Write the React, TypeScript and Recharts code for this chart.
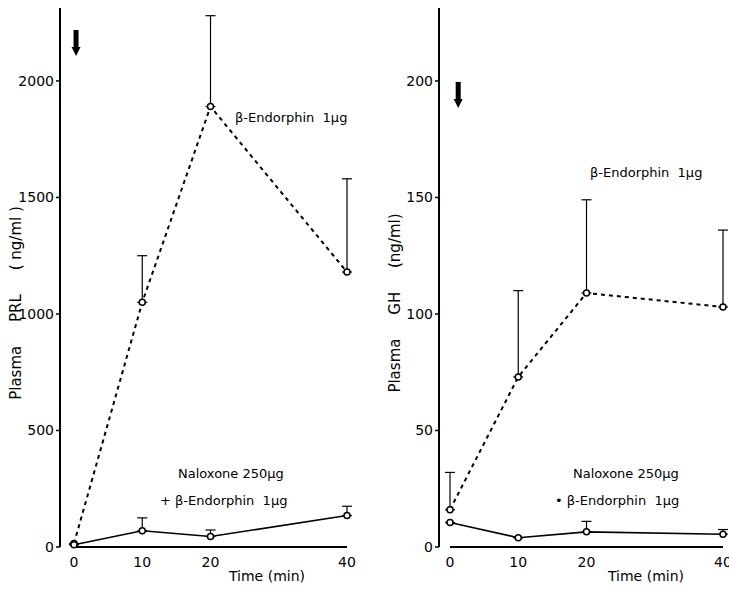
import {
  LineChart,
  Line,
  XAxis,
  YAxis,
  ErrorBar,
  ReferenceLine,
  ReferenceDot,
} from "recharts"

// sampling times (min)
const times = [0, 10, 20, 40]

// PRL (ng/ml)
const prlEndorphin = [15, 1050, 1890, 1180]
const prlEndorphinSem = [0, 200, 390, 400]
const prlNaloxone = [10, 70, 45, 135]
const prlNaloxoneSem = [0, 55, 28, 40]

// GH (ng/ml)
const ghEndorphin = [16, 73, 109, 103]
const ghEndorphinSem = [16, 37, 40, 33]
const ghNaloxone = [10.5, 4, 6.5, 5.5]
const ghNaloxoneSem = [0, 0, 4.5, 2]

const timeTicks = [0, 10, 20, 40]
const prlTicks = [0, 500, 1000, 1500, 2000]
const ghTicks = [0, 50, 100, 150, 200]

const FONT = "'DejaVu Sans', sans-serif"

function buildRows(endo: number[], endoSem: number[], nal: number[], nalSem: number[]) {
  return times.map((t, i) => ({
    t,
    endo: endo[i],
    endoErr: [0, endoSem[i]],
    nal: nal[i],
    nalErr: [0, nalSem[i]],
  }))
}

// open circles, always solid even on the dashed series
const openDot = { r: 3, stroke: "#000", strokeWidth: 1.5, fill: "#fff", strokeDasharray: "0" }

// injection marker
const DownArrow = (props: any) => {
  const { cx, cy } = props
  if (cx == null || cy == null) return null
  return (
    <g>
      <rect x={cx - 2.5} y={cy - 13} width={5} height={18} fill="#000" />
      <path d={`M${cx - 4.5},${cy + 4} L${cx + 4.5},${cy + 4} L${cx},${cy + 13} Z`} fill="#000" />
    </g>
  )
}

interface PanelProps {
  data: ReturnType<typeof buildRows>
  yMax: number
  yTicks: number[]
  yLabel: string
  arrow: { x: number; y: number }
  padLeft: number
  marginRight: number
  endoLabel: { x: number; y: number }
  nalLabel: { x: number; y: number; prefix: string }
}

function Panel({ data, yMax, yTicks, yLabel, arrow, padLeft, marginRight, endoLabel, nalLabel }: PanelProps) {
  const textStyle = { fontFamily: FONT, fontSize: 13, fill: "#000", whiteSpace: "pre" as const }
  return (
    <LineChart
      width={370}
      height={595}
      data={data}
      margin={{ top: 8, right: marginRight, left: 0, bottom: 0 }}
    >
      <XAxis
        dataKey="t"
        type="number"
        domain={[0, 40]}
        ticks={timeTicks}
        padding={{ left: padLeft, right: 0 }}
        axisLine={false}
        tickLine={false}
        tickSize={6}
        tickMargin={4}
        height={48}
        tick={{ fontFamily: FONT, fontSize: 14, fill: "#000" }}
      />
      <YAxis
        type="number"
        domain={[0, yMax]}
        ticks={yTicks}
        width={60}
        axisLine={{ stroke: "#000", strokeWidth: 2 }}
        tickLine={{ stroke: "#000", strokeWidth: 1.5 }}
        tickSize={4}
        tickMargin={2}
        tick={{ fontFamily: FONT, fontSize: 14, fill: "#000" }}
      />
      <ReferenceLine
        segment={[
          { x: 0, y: 0 },
          { x: 40, y: 0 },
        ]}
        stroke="#000"
        strokeWidth={2}
        ifOverflow="visible"
      />
      <ReferenceDot x={arrow.x} y={arrow.y} shape={DownArrow} ifOverflow="visible" />
      <Line
        dataKey="endo"
        stroke="#000"
        strokeWidth={2}
        strokeDasharray="4 4"
        dot={openDot}
        isAnimationActive={false}
      >
        <ErrorBar dataKey="endoErr" direction="y" width={5} stroke="#000" strokeWidth={1.2} />
      </Line>
      <Line
        dataKey="nal"
        stroke="#000"
        strokeWidth={1.6}
        dot={openDot}
        isAnimationActive={false}
      >
        <ErrorBar dataKey="nalErr" direction="y" width={5} stroke="#000" strokeWidth={1.2} />
      </Line>
      <text
        x={16}
        y={303}
        transform="rotate(-90 16 303)"
        textAnchor="middle"
        dominantBaseline="middle"
        style={{ ...textStyle, fontSize: 15 }}
      >
        {yLabel}
      </text>
      <text x={endoLabel.x} y={endoLabel.y} style={textStyle}>
        {"β-Endorphin  1μg"}
      </text>
      <text x={nalLabel.x + 18} y={nalLabel.y} style={textStyle}>
        {"Naloxone 250μg"}
      </text>
      <text x={nalLabel.x} y={nalLabel.y + 27} style={textStyle}>
        {`${nalLabel.prefix} β-Endorphin  1μg`}
      </text>
      <text x={267} y={581} textAnchor="middle" style={{ ...textStyle, fontSize: 14 }}>
        Time (min)
      </text>
    </LineChart>
  )
}

export default function App() {
  const prlRows = buildRows(prlEndorphin, prlEndorphinSem, prlNaloxone, prlNaloxoneSem)
  const ghRows = buildRows(ghEndorphin, ghEndorphinSem, ghNaloxone, ghNaloxoneSem)
  return (
    <div
      style={{
        position: "absolute",
        left: 0,
        top: 0,
        width: 729,
        height: 595,
        overflow: "hidden",
        background: "#fff",
      }}
    >
      <div style={{ position: "absolute", left: 0, top: 0 }}>
        <Panel
          data={prlRows}
          yMax={2313}
          yTicks={prlTicks}
          yLabel={"Plasma     PRL     ( ng/ml )"}
          arrow={{ x: 0.3, y: 2163 }}
          padLeft={14}
          marginRight={23}
          endoLabel={{ x: 235, y: 122 }}
          nalLabel={{ x: 160, y: 478, prefix: "+" }}
        />
      </div>
      <div style={{ position: "absolute", left: 379, top: 0 }}>
        <Panel
          data={ghRows}
          yMax={231.3}
          yTicks={ghTicks}
          yLabel={"Plasma     GH     (ng/ml)"}
          arrow={{ x: 1.2, y: 194 }}
          padLeft={11}
          marginRight={26}
          endoLabel={{ x: 211, y: 177 }}
          nalLabel={{ x: 176, y: 478, prefix: "•" }}
        />
      </div>
    </div>
  )
}
